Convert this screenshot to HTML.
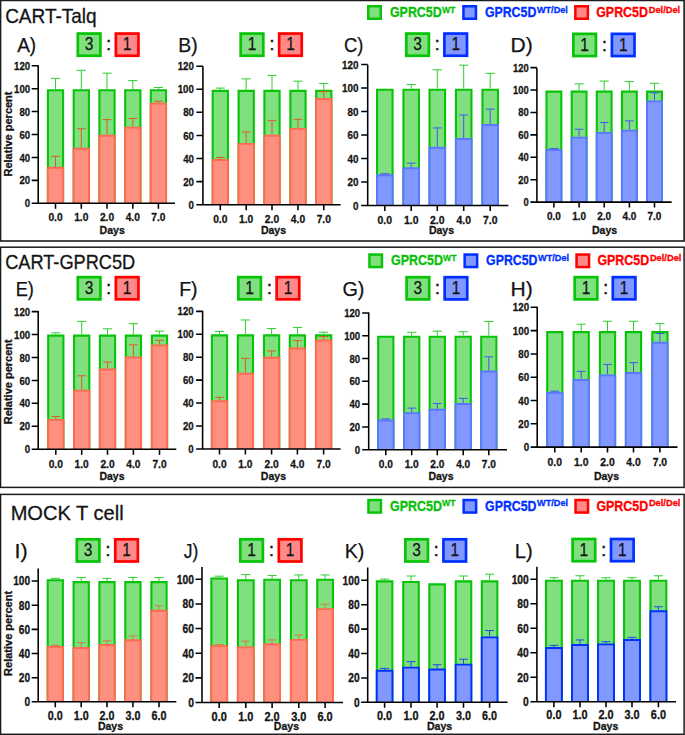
<!DOCTYPE html>
<html lang="en"><head><meta charset="utf-8"><title>GPRC5D competition assay</title>
<style>html,body{margin:0;padding:0;background:#fff}svg{display:block}text{font-family:"Liberation Sans",Arial,sans-serif}</style>
</head><body>
<svg width="685" height="735" viewBox="0 0 685 735" font-family="Liberation Sans, Arial, sans-serif">
<rect x="0" y="0" width="685" height="735" fill="#fff"/>
<rect x="0.55" y="0.45" width="683.55" height="240.55" fill="none" stroke="#1c1c1c" stroke-width="1.6"/>
<rect x="0.55" y="247.20" width="683.55" height="240.20" fill="none" stroke="#1c1c1c" stroke-width="1.5"/>
<rect x="0.55" y="494.40" width="683.55" height="239.90" fill="none" stroke="#1c1c1c" stroke-width="1.5"/>
<text x="5.13" y="22.90" font-size="20.8" font-weight="normal" fill="#141414" text-anchor="start" textLength="91.49" lengthAdjust="spacingAndGlyphs" stroke="#141414" stroke-width="0.3">CART-Talq</text>
<text x="5.17" y="269.20" font-size="20.8" font-weight="normal" fill="#141414" text-anchor="start" textLength="130.11" lengthAdjust="spacingAndGlyphs" stroke="#141414" stroke-width="0.3">CART-GPRC5D</text>
<text x="10.65" y="519.80" font-size="20.8" font-weight="normal" fill="#141414" text-anchor="start" textLength="112.99" lengthAdjust="spacingAndGlyphs" stroke="#141414" stroke-width="0.3">MOCK T cell</text>
<rect x="368.25" y="6.25" width="12.50" height="12.50" fill="#80e080" stroke="#08c408" stroke-width="2.5"/>
<text x="389.90" y="17.10" font-size="14.4" font-weight="bold" fill="#08c008" text-anchor="start" textLength="51.90" lengthAdjust="spacingAndGlyphs" stroke="#08c008" stroke-width="0.3">GPRC5D</text>
<text x="441.90" y="12.60" font-size="9.6" font-weight="bold" fill="#08c008" text-anchor="start" textLength="13.40" lengthAdjust="spacingAndGlyphs" stroke="#08c008" stroke-width="0.3">WT</text>
<rect x="463.45" y="6.25" width="12.50" height="12.50" fill="#8098ff" stroke="#0030ff" stroke-width="2.5"/>
<text x="484.90" y="17.10" font-size="14.4" font-weight="bold" fill="#0030ff" text-anchor="start" textLength="51.40" lengthAdjust="spacingAndGlyphs" stroke="#0030ff" stroke-width="0.3">GPRC5D</text>
<text x="536.90" y="12.60" font-size="9.6" font-weight="bold" fill="#0030ff" text-anchor="start" textLength="31.00" lengthAdjust="spacingAndGlyphs" stroke="#0030ff" stroke-width="0.3">WT/Del</text>
<rect x="575.35" y="6.25" width="12.50" height="12.50" fill="#ff8888" stroke="#ff0000" stroke-width="2.5"/>
<text x="596.20" y="17.10" font-size="14.4" font-weight="bold" fill="#ff0000" text-anchor="start" textLength="51.80" lengthAdjust="spacingAndGlyphs" stroke="#ff0000" stroke-width="0.3">GPRC5D</text>
<text x="648.70" y="12.60" font-size="9.6" font-weight="bold" fill="#ff0000" text-anchor="start" textLength="31.50" lengthAdjust="spacingAndGlyphs" stroke="#ff0000" stroke-width="0.3">Del/Del</text>
<rect x="369.45" y="254.55" width="12.50" height="12.50" fill="#80e080" stroke="#08c408" stroke-width="2.5"/>
<text x="391.10" y="265.40" font-size="14.4" font-weight="bold" fill="#08c008" text-anchor="start" textLength="51.90" lengthAdjust="spacingAndGlyphs" stroke="#08c008" stroke-width="0.3">GPRC5D</text>
<text x="443.10" y="260.90" font-size="9.6" font-weight="bold" fill="#08c008" text-anchor="start" textLength="13.40" lengthAdjust="spacingAndGlyphs" stroke="#08c008" stroke-width="0.3">WT</text>
<rect x="464.65" y="254.55" width="12.50" height="12.50" fill="#8098ff" stroke="#0030ff" stroke-width="2.5"/>
<text x="486.10" y="265.40" font-size="14.4" font-weight="bold" fill="#0030ff" text-anchor="start" textLength="51.40" lengthAdjust="spacingAndGlyphs" stroke="#0030ff" stroke-width="0.3">GPRC5D</text>
<text x="538.10" y="260.90" font-size="9.6" font-weight="bold" fill="#0030ff" text-anchor="start" textLength="31.00" lengthAdjust="spacingAndGlyphs" stroke="#0030ff" stroke-width="0.3">WT/Del</text>
<rect x="576.55" y="254.55" width="12.50" height="12.50" fill="#ff8888" stroke="#ff0000" stroke-width="2.5"/>
<text x="597.40" y="265.40" font-size="14.4" font-weight="bold" fill="#ff0000" text-anchor="start" textLength="51.80" lengthAdjust="spacingAndGlyphs" stroke="#ff0000" stroke-width="0.3">GPRC5D</text>
<text x="649.90" y="260.90" font-size="9.6" font-weight="bold" fill="#ff0000" text-anchor="start" textLength="31.50" lengthAdjust="spacingAndGlyphs" stroke="#ff0000" stroke-width="0.3">Del/Del</text>
<rect x="368.45" y="500.05" width="12.50" height="12.50" fill="#80e080" stroke="#08c408" stroke-width="2.5"/>
<text x="390.10" y="510.90" font-size="14.4" font-weight="bold" fill="#08c008" text-anchor="start" textLength="51.90" lengthAdjust="spacingAndGlyphs" stroke="#08c008" stroke-width="0.3">GPRC5D</text>
<text x="442.10" y="506.40" font-size="9.6" font-weight="bold" fill="#08c008" text-anchor="start" textLength="13.40" lengthAdjust="spacingAndGlyphs" stroke="#08c008" stroke-width="0.3">WT</text>
<rect x="463.65" y="500.05" width="12.50" height="12.50" fill="#8098ff" stroke="#0030ff" stroke-width="2.5"/>
<text x="485.10" y="510.90" font-size="14.4" font-weight="bold" fill="#0030ff" text-anchor="start" textLength="51.40" lengthAdjust="spacingAndGlyphs" stroke="#0030ff" stroke-width="0.3">GPRC5D</text>
<text x="537.10" y="506.40" font-size="9.6" font-weight="bold" fill="#0030ff" text-anchor="start" textLength="31.00" lengthAdjust="spacingAndGlyphs" stroke="#0030ff" stroke-width="0.3">WT/Del</text>
<rect x="575.55" y="500.05" width="12.50" height="12.50" fill="#ff8888" stroke="#ff0000" stroke-width="2.5"/>
<text x="596.40" y="510.90" font-size="14.4" font-weight="bold" fill="#ff0000" text-anchor="start" textLength="51.80" lengthAdjust="spacingAndGlyphs" stroke="#ff0000" stroke-width="0.3">GPRC5D</text>
<text x="648.90" y="506.40" font-size="9.6" font-weight="bold" fill="#ff0000" text-anchor="start" textLength="31.50" lengthAdjust="spacingAndGlyphs" stroke="#ff0000" stroke-width="0.3">Del/Del</text>
<path d="M47.90 203.30V90.27H63.10V203.30" fill="#80e080" stroke="#08c408" stroke-width="2.1"/>
<path d="M55.50 89.22V78.33M50.90 78.33H60.10" stroke="#30cc30" stroke-width="1" fill="none"/>
<path d="M73.70 203.30V90.27H88.90V203.30" fill="#80e080" stroke="#08c408" stroke-width="2.1"/>
<path d="M81.30 89.22V70.31M76.70 70.31H85.90" stroke="#30cc30" stroke-width="1" fill="none"/>
<path d="M99.40 203.30V90.27H114.60V203.30" fill="#80e080" stroke="#08c408" stroke-width="2.1"/>
<path d="M107.00 89.22V73.17M102.40 73.17H111.60" stroke="#30cc30" stroke-width="1" fill="none"/>
<path d="M125.20 203.30V90.27H140.40V203.30" fill="#80e080" stroke="#08c408" stroke-width="2.1"/>
<path d="M132.80 89.22V80.62M128.20 80.62H137.40" stroke="#30cc30" stroke-width="1" fill="none"/>
<path d="M150.80 203.30V90.27H166.00V203.30" fill="#80e080" stroke="#08c408" stroke-width="2.1"/>
<path d="M158.40 89.22V87.50M153.80 87.50H163.00" stroke="#30cc30" stroke-width="1" fill="none"/>
<path d="M47.80 203.30V167.79H63.20V203.30" fill="#ff9080" stroke="#ff6a50" stroke-width="1.9"/>
<path d="M55.50 166.84V156.29M51.10 156.29H59.90" stroke="#d8601c" stroke-width="1" fill="none"/>
<path d="M73.60 203.30V148.76H89.00V203.30" fill="#ff9080" stroke="#ff6a50" stroke-width="1.9"/>
<path d="M81.30 147.81V128.78M76.90 128.78H85.70" stroke="#d8601c" stroke-width="1" fill="none"/>
<path d="M99.30 203.30V135.69H114.70V203.30" fill="#ff9080" stroke="#ff6a50" stroke-width="1.9"/>
<path d="M107.00 134.74V119.61M102.60 119.61H111.40" stroke="#d8601c" stroke-width="1" fill="none"/>
<path d="M125.10 203.30V127.66H140.50V203.30" fill="#ff9080" stroke="#ff6a50" stroke-width="1.9"/>
<path d="M132.80 126.71V118.46M128.40 118.46H137.20" stroke="#d8601c" stroke-width="1" fill="none"/>
<path d="M150.70 203.30V103.59H166.10V203.30" fill="#ff9080" stroke="#ff6a50" stroke-width="1.9"/>
<path d="M158.40 102.64V101.26M154.00 101.26H162.80" stroke="#d8601c" stroke-width="1" fill="none"/>
<path d="M38.20 65.20V203.30H175.00M31.70 203.30H38.20M31.70 180.37H38.20M31.70 157.44H38.20M31.70 134.51H38.20M31.70 111.58H38.20M31.70 88.65H38.20M31.70 65.72H38.20M55.50 203.30V208.80M81.30 203.30V208.80M107.00 203.30V208.80M132.80 203.30V208.80M158.40 203.30V208.80" stroke="#000" stroke-width="1.55" fill="none"/>
<text x="30.10" y="207.40" font-size="11.5" font-weight="bold" fill="#141414" text-anchor="end" textLength="5.35" lengthAdjust="spacingAndGlyphs" stroke="#141414" stroke-width="0.3">0</text>
<text x="30.10" y="184.47" font-size="11.5" font-weight="bold" fill="#141414" text-anchor="end" textLength="10.70" lengthAdjust="spacingAndGlyphs" stroke="#141414" stroke-width="0.3">20</text>
<text x="30.10" y="161.54" font-size="11.5" font-weight="bold" fill="#141414" text-anchor="end" textLength="10.70" lengthAdjust="spacingAndGlyphs" stroke="#141414" stroke-width="0.3">40</text>
<text x="30.10" y="138.61" font-size="11.5" font-weight="bold" fill="#141414" text-anchor="end" textLength="10.70" lengthAdjust="spacingAndGlyphs" stroke="#141414" stroke-width="0.3">60</text>
<text x="30.10" y="115.68" font-size="11.5" font-weight="bold" fill="#141414" text-anchor="end" textLength="10.70" lengthAdjust="spacingAndGlyphs" stroke="#141414" stroke-width="0.3">80</text>
<text x="30.10" y="92.75" font-size="11.5" font-weight="bold" fill="#141414" text-anchor="end" textLength="16.05" lengthAdjust="spacingAndGlyphs" stroke="#141414" stroke-width="0.3">100</text>
<text x="30.10" y="69.82" font-size="11.5" font-weight="bold" fill="#141414" text-anchor="end" textLength="16.05" lengthAdjust="spacingAndGlyphs" stroke="#141414" stroke-width="0.3">120</text>
<text x="55.50" y="221.00" font-size="11.5" font-weight="bold" fill="#141414" text-anchor="middle" textLength="14.20" lengthAdjust="spacingAndGlyphs" stroke="#141414" stroke-width="0.3">0.0</text>
<text x="81.30" y="221.00" font-size="11.5" font-weight="bold" fill="#141414" text-anchor="middle" textLength="14.20" lengthAdjust="spacingAndGlyphs" stroke="#141414" stroke-width="0.3">1.0</text>
<text x="107.00" y="221.00" font-size="11.5" font-weight="bold" fill="#141414" text-anchor="middle" textLength="14.20" lengthAdjust="spacingAndGlyphs" stroke="#141414" stroke-width="0.3">2.0</text>
<text x="132.80" y="221.00" font-size="11.5" font-weight="bold" fill="#141414" text-anchor="middle" textLength="14.20" lengthAdjust="spacingAndGlyphs" stroke="#141414" stroke-width="0.3">4.0</text>
<text x="158.40" y="221.00" font-size="11.5" font-weight="bold" fill="#141414" text-anchor="middle" textLength="14.20" lengthAdjust="spacingAndGlyphs" stroke="#141414" stroke-width="0.3">7.0</text>
<text x="112.20" y="234.20" font-size="11.6" font-weight="bold" fill="#141414" text-anchor="middle" textLength="25.20" lengthAdjust="spacingAndGlyphs" stroke="#141414" stroke-width="0.3">Days</text>
<text x="17.16" y="51.90" font-size="21" font-weight="normal" fill="#141414" text-anchor="start" textLength="19.02" lengthAdjust="spacingAndGlyphs" stroke="#141414" stroke-width="0.25">A)</text>
<rect x="77.80" y="33.55" width="22.60" height="22.20" fill="#80e080" stroke="#08c408" stroke-width="2.7"/>
<rect x="115.85" y="33.55" width="22.60" height="22.20" fill="#ff8888" stroke="#ff0000" stroke-width="2.7"/>
<text x="89.10" y="50.35" font-size="17.5" font-weight="normal" fill="#141414" text-anchor="middle" textLength="8.60" lengthAdjust="spacingAndGlyphs" stroke="#141414" stroke-width="0.25">3</text>
<text x="127.15" y="50.35" font-size="17.5" font-weight="normal" fill="#141414" text-anchor="middle" textLength="8.60" lengthAdjust="spacingAndGlyphs" stroke="#141414" stroke-width="0.25">1</text>
<text x="108.72" y="50.35" font-size="17.5" font-weight="normal" fill="#141414" text-anchor="middle" stroke="#141414" stroke-width="0.5">:</text>
<text transform="translate(12.2 134.00) rotate(-90)" font-size="11" font-weight="bold" fill="#141414" stroke="#141414" stroke-width="0.3" text-anchor="middle" textLength="85" lengthAdjust="spacingAndGlyphs">Relative percent</text>
<path d="M212.70 204.70V90.88H227.90V204.70" fill="#80e080" stroke="#08c408" stroke-width="2.1"/>
<path d="M220.30 89.83V88.10M215.70 88.10H224.90" stroke="#30cc30" stroke-width="1" fill="none"/>
<path d="M238.60 204.70V90.88H253.80V204.70" fill="#80e080" stroke="#08c408" stroke-width="2.1"/>
<path d="M246.20 89.83V78.86M241.60 78.86H250.80" stroke="#30cc30" stroke-width="1" fill="none"/>
<path d="M264.40 204.70V90.88H279.60V204.70" fill="#80e080" stroke="#08c408" stroke-width="2.1"/>
<path d="M272.00 89.83V75.40M267.40 75.40H276.60" stroke="#30cc30" stroke-width="1" fill="none"/>
<path d="M290.40 204.70V90.88H305.60V204.70" fill="#80e080" stroke="#08c408" stroke-width="2.1"/>
<path d="M298.00 89.83V81.17M293.40 81.17H302.60" stroke="#30cc30" stroke-width="1" fill="none"/>
<path d="M316.20 204.70V90.88H331.40V204.70" fill="#80e080" stroke="#08c408" stroke-width="2.1"/>
<path d="M323.80 89.83V83.48M319.20 83.48H328.40" stroke="#30cc30" stroke-width="1" fill="none"/>
<path d="M212.60 204.70V160.05H228.00V204.70" fill="#ff9080" stroke="#ff6a50" stroke-width="1.9"/>
<path d="M220.30 159.10V157.37M215.90 157.37H224.70" stroke="#d8601c" stroke-width="1" fill="none"/>
<path d="M238.50 204.70V143.88H253.90V204.70" fill="#ff9080" stroke="#ff6a50" stroke-width="1.9"/>
<path d="M246.20 142.93V131.97M241.80 131.97H250.60" stroke="#d8601c" stroke-width="1" fill="none"/>
<path d="M264.30 204.70V135.80H279.70V204.70" fill="#ff9080" stroke="#ff6a50" stroke-width="1.9"/>
<path d="M272.00 134.85V120.42M267.60 120.42H276.40" stroke="#d8601c" stroke-width="1" fill="none"/>
<path d="M290.30 204.70V128.88H305.70V204.70" fill="#ff9080" stroke="#ff6a50" stroke-width="1.9"/>
<path d="M298.00 127.93V119.27M293.60 119.27H302.40" stroke="#d8601c" stroke-width="1" fill="none"/>
<path d="M316.10 204.70V98.97H331.50V204.70" fill="#ff9080" stroke="#ff6a50" stroke-width="1.9"/>
<path d="M323.80 98.02V91.56M319.40 91.56H328.20" stroke="#d8601c" stroke-width="1" fill="none"/>
<path d="M202.90 66.20V204.70H340.60M196.40 204.70H202.90M196.40 181.61H202.90M196.40 158.52H202.90M196.40 135.43H202.90M196.40 112.34H202.90M196.40 89.25H202.90M196.40 66.16H202.90M220.30 204.70V210.20M246.20 204.70V210.20M272.00 204.70V210.20M298.00 204.70V210.20M323.80 204.70V210.20" stroke="#000" stroke-width="1.55" fill="none"/>
<text x="193.90" y="208.83" font-size="11.58" font-weight="bold" fill="#141414" text-anchor="end" textLength="5.39" lengthAdjust="spacingAndGlyphs" stroke="#141414" stroke-width="0.3">0</text>
<text x="193.90" y="185.74" font-size="11.58" font-weight="bold" fill="#141414" text-anchor="end" textLength="10.77" lengthAdjust="spacingAndGlyphs" stroke="#141414" stroke-width="0.3">20</text>
<text x="193.90" y="162.65" font-size="11.58" font-weight="bold" fill="#141414" text-anchor="end" textLength="10.77" lengthAdjust="spacingAndGlyphs" stroke="#141414" stroke-width="0.3">40</text>
<text x="193.90" y="139.56" font-size="11.58" font-weight="bold" fill="#141414" text-anchor="end" textLength="10.77" lengthAdjust="spacingAndGlyphs" stroke="#141414" stroke-width="0.3">60</text>
<text x="193.90" y="116.47" font-size="11.58" font-weight="bold" fill="#141414" text-anchor="end" textLength="10.77" lengthAdjust="spacingAndGlyphs" stroke="#141414" stroke-width="0.3">80</text>
<text x="193.90" y="93.38" font-size="11.58" font-weight="bold" fill="#141414" text-anchor="end" textLength="16.16" lengthAdjust="spacingAndGlyphs" stroke="#141414" stroke-width="0.3">100</text>
<text x="193.90" y="70.29" font-size="11.58" font-weight="bold" fill="#141414" text-anchor="end" textLength="16.16" lengthAdjust="spacingAndGlyphs" stroke="#141414" stroke-width="0.3">120</text>
<text x="220.30" y="223.00" font-size="11.58" font-weight="bold" fill="#141414" text-anchor="middle" textLength="14.30" lengthAdjust="spacingAndGlyphs" stroke="#141414" stroke-width="0.3">0.0</text>
<text x="246.20" y="223.00" font-size="11.58" font-weight="bold" fill="#141414" text-anchor="middle" textLength="14.30" lengthAdjust="spacingAndGlyphs" stroke="#141414" stroke-width="0.3">1.0</text>
<text x="272.00" y="223.00" font-size="11.58" font-weight="bold" fill="#141414" text-anchor="middle" textLength="14.30" lengthAdjust="spacingAndGlyphs" stroke="#141414" stroke-width="0.3">2.0</text>
<text x="298.00" y="223.00" font-size="11.58" font-weight="bold" fill="#141414" text-anchor="middle" textLength="14.30" lengthAdjust="spacingAndGlyphs" stroke="#141414" stroke-width="0.3">4.0</text>
<text x="323.80" y="223.00" font-size="11.58" font-weight="bold" fill="#141414" text-anchor="middle" textLength="14.30" lengthAdjust="spacingAndGlyphs" stroke="#141414" stroke-width="0.3">7.0</text>
<text x="273.50" y="234.20" font-size="11.6" font-weight="bold" fill="#141414" text-anchor="middle" textLength="25.20" lengthAdjust="spacingAndGlyphs" stroke="#141414" stroke-width="0.3">Days</text>
<text x="178.21" y="51.90" font-size="21" font-weight="normal" fill="#141414" text-anchor="start" textLength="19.39" lengthAdjust="spacingAndGlyphs" stroke="#141414" stroke-width="0.25">B)</text>
<rect x="240.70" y="33.55" width="22.60" height="22.20" fill="#80e080" stroke="#08c408" stroke-width="2.7"/>
<rect x="279.15" y="33.55" width="22.60" height="22.20" fill="#ff8888" stroke="#ff0000" stroke-width="2.7"/>
<text x="252.00" y="50.35" font-size="17.5" font-weight="normal" fill="#141414" text-anchor="middle" textLength="8.60" lengthAdjust="spacingAndGlyphs" stroke="#141414" stroke-width="0.25">1</text>
<text x="290.45" y="50.35" font-size="17.5" font-weight="normal" fill="#141414" text-anchor="middle" textLength="8.60" lengthAdjust="spacingAndGlyphs" stroke="#141414" stroke-width="0.25">1</text>
<text x="271.83" y="50.35" font-size="17.5" font-weight="normal" fill="#141414" text-anchor="middle" stroke="#141414" stroke-width="0.5">:</text>
<path d="M377.05 205.40V89.69H392.55V205.40" fill="#80e080" stroke="#08c408" stroke-width="2.1"/>
<path d="M403.45 205.40V89.69H418.95V205.40" fill="#80e080" stroke="#08c408" stroke-width="2.1"/>
<path d="M411.20 88.64V84.53M406.60 84.53H415.80" stroke="#30cc30" stroke-width="1" fill="none"/>
<path d="M429.55 205.40V89.69H445.05V205.40" fill="#80e080" stroke="#08c408" stroke-width="2.1"/>
<path d="M437.30 88.64V69.86M432.70 69.86H441.90" stroke="#30cc30" stroke-width="1" fill="none"/>
<path d="M455.95 205.40V89.69H471.45V205.40" fill="#80e080" stroke="#08c408" stroke-width="2.1"/>
<path d="M463.70 88.64V65.17M459.10 65.17H468.30" stroke="#30cc30" stroke-width="1" fill="none"/>
<path d="M482.45 205.40V89.69H497.95V205.40" fill="#80e080" stroke="#08c408" stroke-width="2.1"/>
<path d="M490.20 88.64V73.38M485.60 73.38H494.80" stroke="#30cc30" stroke-width="1" fill="none"/>
<path d="M376.95 205.40V175.25H392.65V205.40" fill="#8098ff" stroke="#5a78ff" stroke-width="1.9"/>
<path d="M384.80 174.30V173.72M380.40 173.72H389.20" stroke="#4058e8" stroke-width="1" fill="none"/>
<path d="M403.35 205.40V168.21H419.05V205.40" fill="#8098ff" stroke="#5a78ff" stroke-width="1.9"/>
<path d="M411.20 167.26V163.15M406.80 163.15H415.60" stroke="#4058e8" stroke-width="1" fill="none"/>
<path d="M429.45 205.40V147.68H445.15V205.40" fill="#8098ff" stroke="#5a78ff" stroke-width="1.9"/>
<path d="M437.30 146.73V127.95M432.90 127.95H441.70" stroke="#4058e8" stroke-width="1" fill="none"/>
<path d="M455.85 205.40V138.99H471.55V205.40" fill="#8098ff" stroke="#5a78ff" stroke-width="1.9"/>
<path d="M463.70 138.04V115.04M459.30 115.04H468.10" stroke="#4058e8" stroke-width="1" fill="none"/>
<path d="M482.35 205.40V125.03H498.05V205.40" fill="#8098ff" stroke="#5a78ff" stroke-width="1.9"/>
<path d="M490.20 124.08V109.17M485.80 109.17H494.60" stroke="#4058e8" stroke-width="1" fill="none"/>
<path d="M367.70 64.70V205.40H508.40M361.20 205.40H367.70M361.20 181.93H367.70M361.20 158.46H367.70M361.20 134.99H367.70M361.20 111.52H367.70M361.20 88.05H367.70M361.20 64.58H367.70M384.80 205.40V210.90M411.20 205.40V210.90M437.30 205.40V210.90M463.70 205.40V210.90M490.20 205.40V210.90" stroke="#000" stroke-width="1.55" fill="none"/>
<text x="358.40" y="209.60" font-size="11.77" font-weight="bold" fill="#141414" text-anchor="end" textLength="5.48" lengthAdjust="spacingAndGlyphs" stroke="#141414" stroke-width="0.3">0</text>
<text x="358.40" y="186.13" font-size="11.77" font-weight="bold" fill="#141414" text-anchor="end" textLength="10.95" lengthAdjust="spacingAndGlyphs" stroke="#141414" stroke-width="0.3">20</text>
<text x="358.40" y="162.66" font-size="11.77" font-weight="bold" fill="#141414" text-anchor="end" textLength="10.95" lengthAdjust="spacingAndGlyphs" stroke="#141414" stroke-width="0.3">40</text>
<text x="358.40" y="139.19" font-size="11.77" font-weight="bold" fill="#141414" text-anchor="end" textLength="10.95" lengthAdjust="spacingAndGlyphs" stroke="#141414" stroke-width="0.3">60</text>
<text x="358.40" y="115.72" font-size="11.77" font-weight="bold" fill="#141414" text-anchor="end" textLength="10.95" lengthAdjust="spacingAndGlyphs" stroke="#141414" stroke-width="0.3">80</text>
<text x="358.40" y="92.25" font-size="11.77" font-weight="bold" fill="#141414" text-anchor="end" textLength="16.43" lengthAdjust="spacingAndGlyphs" stroke="#141414" stroke-width="0.3">100</text>
<text x="358.40" y="68.78" font-size="11.77" font-weight="bold" fill="#141414" text-anchor="end" textLength="16.43" lengthAdjust="spacingAndGlyphs" stroke="#141414" stroke-width="0.3">120</text>
<text x="384.80" y="224.00" font-size="11.77" font-weight="bold" fill="#141414" text-anchor="middle" textLength="14.53" lengthAdjust="spacingAndGlyphs" stroke="#141414" stroke-width="0.3">0.0</text>
<text x="411.20" y="224.00" font-size="11.77" font-weight="bold" fill="#141414" text-anchor="middle" textLength="14.53" lengthAdjust="spacingAndGlyphs" stroke="#141414" stroke-width="0.3">1.0</text>
<text x="437.30" y="224.00" font-size="11.77" font-weight="bold" fill="#141414" text-anchor="middle" textLength="14.53" lengthAdjust="spacingAndGlyphs" stroke="#141414" stroke-width="0.3">2.0</text>
<text x="463.70" y="224.00" font-size="11.77" font-weight="bold" fill="#141414" text-anchor="middle" textLength="14.53" lengthAdjust="spacingAndGlyphs" stroke="#141414" stroke-width="0.3">4.0</text>
<text x="490.20" y="224.00" font-size="11.77" font-weight="bold" fill="#141414" text-anchor="middle" textLength="14.53" lengthAdjust="spacingAndGlyphs" stroke="#141414" stroke-width="0.3">7.0</text>
<text x="441.50" y="234.20" font-size="11.6" font-weight="bold" fill="#141414" text-anchor="middle" textLength="25.20" lengthAdjust="spacingAndGlyphs" stroke="#141414" stroke-width="0.3">Days</text>
<text x="344.06" y="51.90" font-size="21" font-weight="normal" fill="#141414" text-anchor="start" textLength="19.38" lengthAdjust="spacingAndGlyphs" stroke="#141414" stroke-width="0.25">C)</text>
<rect x="406.30" y="33.55" width="22.60" height="22.20" fill="#80e080" stroke="#08c408" stroke-width="2.7"/>
<rect x="444.40" y="33.55" width="22.60" height="22.20" fill="#8098ff" stroke="#0030ff" stroke-width="2.7"/>
<text x="417.60" y="50.35" font-size="17.5" font-weight="normal" fill="#141414" text-anchor="middle" textLength="8.60" lengthAdjust="spacingAndGlyphs" stroke="#141414" stroke-width="0.25">3</text>
<text x="455.70" y="50.35" font-size="17.5" font-weight="normal" fill="#141414" text-anchor="middle" textLength="8.60" lengthAdjust="spacingAndGlyphs" stroke="#141414" stroke-width="0.25">1</text>
<text x="437.25" y="50.35" font-size="17.5" font-weight="normal" fill="#141414" text-anchor="middle" stroke="#141414" stroke-width="0.5">:</text>
<path d="M546.50 202.10V91.65H561.30V202.10" fill="#80e080" stroke="#08c408" stroke-width="2.1"/>
<path d="M571.70 202.10V91.65H586.50V202.10" fill="#80e080" stroke="#08c408" stroke-width="2.1"/>
<path d="M579.10 90.60V83.88M574.50 83.88H583.70" stroke="#30cc30" stroke-width="1" fill="none"/>
<path d="M596.80 202.10V91.65H611.60V202.10" fill="#80e080" stroke="#08c408" stroke-width="2.1"/>
<path d="M604.20 90.60V81.08M599.60 81.08H608.80" stroke="#30cc30" stroke-width="1" fill="none"/>
<path d="M622.00 202.10V91.65H636.80V202.10" fill="#80e080" stroke="#08c408" stroke-width="2.1"/>
<path d="M629.40 90.60V81.64M624.80 81.64H634.00" stroke="#30cc30" stroke-width="1" fill="none"/>
<path d="M647.10 202.10V91.65H661.90V202.10" fill="#80e080" stroke="#08c408" stroke-width="2.1"/>
<path d="M654.50 90.60V83.32M649.90 83.32H659.10" stroke="#30cc30" stroke-width="1" fill="none"/>
<path d="M546.40 202.10V150.05H561.40V202.10" fill="#8098ff" stroke="#5a78ff" stroke-width="1.9"/>
<path d="M553.90 149.10V148.54M549.50 148.54H558.30" stroke="#4058e8" stroke-width="1" fill="none"/>
<path d="M571.60 202.10V137.61H586.60V202.10" fill="#8098ff" stroke="#5a78ff" stroke-width="1.9"/>
<path d="M579.10 136.66V129.26M574.70 129.26H583.50" stroke="#4058e8" stroke-width="1" fill="none"/>
<path d="M596.70 202.10V132.90H611.70V202.10" fill="#8098ff" stroke="#5a78ff" stroke-width="1.9"/>
<path d="M604.20 131.95V122.54M599.80 122.54H608.60" stroke="#4058e8" stroke-width="1" fill="none"/>
<path d="M621.90 202.10V130.66H636.90V202.10" fill="#8098ff" stroke="#5a78ff" stroke-width="1.9"/>
<path d="M629.40 129.71V120.86M625.00 120.86H633.80" stroke="#4058e8" stroke-width="1" fill="none"/>
<path d="M647.00 202.10V101.41H662.00V202.10" fill="#8098ff" stroke="#5a78ff" stroke-width="1.9"/>
<path d="M654.50 100.46V92.84M650.10 92.84H658.90" stroke="#4058e8" stroke-width="1" fill="none"/>
<path d="M536.90 67.90V202.10H671.60M530.40 202.10H536.90M530.40 179.69H536.90M530.40 157.28H536.90M530.40 134.86H536.90M530.40 112.45H536.90M530.40 90.04H536.90M530.40 67.63H536.90M553.90 202.10V207.60M579.10 202.10V207.60M604.20 202.10V207.60M629.40 202.10V207.60M654.50 202.10V207.60" stroke="#000" stroke-width="1.55" fill="none"/>
<text x="528.80" y="206.11" font-size="11.24" font-weight="bold" fill="#141414" text-anchor="end" textLength="5.23" lengthAdjust="spacingAndGlyphs" stroke="#141414" stroke-width="0.3">0</text>
<text x="528.80" y="183.70" font-size="11.24" font-weight="bold" fill="#141414" text-anchor="end" textLength="10.46" lengthAdjust="spacingAndGlyphs" stroke="#141414" stroke-width="0.3">20</text>
<text x="528.80" y="161.28" font-size="11.24" font-weight="bold" fill="#141414" text-anchor="end" textLength="10.46" lengthAdjust="spacingAndGlyphs" stroke="#141414" stroke-width="0.3">40</text>
<text x="528.80" y="138.87" font-size="11.24" font-weight="bold" fill="#141414" text-anchor="end" textLength="10.46" lengthAdjust="spacingAndGlyphs" stroke="#141414" stroke-width="0.3">60</text>
<text x="528.80" y="116.46" font-size="11.24" font-weight="bold" fill="#141414" text-anchor="end" textLength="10.46" lengthAdjust="spacingAndGlyphs" stroke="#141414" stroke-width="0.3">80</text>
<text x="528.80" y="94.05" font-size="11.24" font-weight="bold" fill="#141414" text-anchor="end" textLength="15.69" lengthAdjust="spacingAndGlyphs" stroke="#141414" stroke-width="0.3">100</text>
<text x="528.80" y="71.64" font-size="11.24" font-weight="bold" fill="#141414" text-anchor="end" textLength="15.69" lengthAdjust="spacingAndGlyphs" stroke="#141414" stroke-width="0.3">120</text>
<text x="553.90" y="220.10" font-size="11.24" font-weight="bold" fill="#141414" text-anchor="middle" textLength="13.88" lengthAdjust="spacingAndGlyphs" stroke="#141414" stroke-width="0.3">0.0</text>
<text x="579.10" y="220.10" font-size="11.24" font-weight="bold" fill="#141414" text-anchor="middle" textLength="13.88" lengthAdjust="spacingAndGlyphs" stroke="#141414" stroke-width="0.3">1.0</text>
<text x="604.20" y="220.10" font-size="11.24" font-weight="bold" fill="#141414" text-anchor="middle" textLength="13.88" lengthAdjust="spacingAndGlyphs" stroke="#141414" stroke-width="0.3">2.0</text>
<text x="629.40" y="220.10" font-size="11.24" font-weight="bold" fill="#141414" text-anchor="middle" textLength="13.88" lengthAdjust="spacingAndGlyphs" stroke="#141414" stroke-width="0.3">4.0</text>
<text x="654.50" y="220.10" font-size="11.24" font-weight="bold" fill="#141414" text-anchor="middle" textLength="13.88" lengthAdjust="spacingAndGlyphs" stroke="#141414" stroke-width="0.3">7.0</text>
<text x="604.60" y="234.20" font-size="11.6" font-weight="bold" fill="#141414" text-anchor="middle" textLength="25.20" lengthAdjust="spacingAndGlyphs" stroke="#141414" stroke-width="0.3">Days</text>
<text x="510.57" y="51.90" font-size="21" font-weight="normal" fill="#141414" text-anchor="start" textLength="22.24" lengthAdjust="spacingAndGlyphs" stroke="#141414" stroke-width="0.25">D)</text>
<rect x="573.35" y="33.85" width="22.60" height="22.20" fill="#80e080" stroke="#08c408" stroke-width="2.7"/>
<rect x="611.90" y="33.85" width="22.60" height="22.20" fill="#8098ff" stroke="#0030ff" stroke-width="2.7"/>
<text x="584.65" y="50.65" font-size="17.5" font-weight="normal" fill="#141414" text-anchor="middle" textLength="8.60" lengthAdjust="spacingAndGlyphs" stroke="#141414" stroke-width="0.25">1</text>
<text x="623.20" y="50.65" font-size="17.5" font-weight="normal" fill="#141414" text-anchor="middle" textLength="8.60" lengthAdjust="spacingAndGlyphs" stroke="#141414" stroke-width="0.25">1</text>
<text x="604.52" y="50.65" font-size="17.5" font-weight="normal" fill="#141414" text-anchor="middle" stroke="#141414" stroke-width="0.5">:</text>
<path d="M48.20 449.20V335.60H63.40V449.20" fill="#80e080" stroke="#08c408" stroke-width="2.1"/>
<path d="M55.80 334.55V332.83M51.20 332.83H60.40" stroke="#30cc30" stroke-width="1" fill="none"/>
<path d="M74.10 449.20V335.60H89.30V449.20" fill="#80e080" stroke="#08c408" stroke-width="2.1"/>
<path d="M81.70 334.55V321.37M77.10 321.37H86.30" stroke="#30cc30" stroke-width="1" fill="none"/>
<path d="M99.90 449.20V335.60H115.10V449.20" fill="#80e080" stroke="#08c408" stroke-width="2.1"/>
<path d="M107.50 334.55V328.82M102.90 328.82H112.10" stroke="#30cc30" stroke-width="1" fill="none"/>
<path d="M125.80 449.20V335.60H141.00V449.20" fill="#80e080" stroke="#08c408" stroke-width="2.1"/>
<path d="M133.40 334.55V323.66M128.80 323.66H138.00" stroke="#30cc30" stroke-width="1" fill="none"/>
<path d="M151.90 449.20V335.60H167.10V449.20" fill="#80e080" stroke="#08c408" stroke-width="2.1"/>
<path d="M159.50 334.55V331.11M154.90 331.11H164.10" stroke="#30cc30" stroke-width="1" fill="none"/>
<path d="M48.10 449.20V419.88H63.50V449.20" fill="#ff9080" stroke="#ff6a50" stroke-width="1.9"/>
<path d="M55.80 418.93V416.52M51.40 416.52H60.20" stroke="#d8601c" stroke-width="1" fill="none"/>
<path d="M74.00 449.20V390.65H89.40V449.20" fill="#ff9080" stroke="#ff6a50" stroke-width="1.9"/>
<path d="M81.70 389.70V375.82M77.30 375.82H86.10" stroke="#d8601c" stroke-width="1" fill="none"/>
<path d="M99.80 449.20V369.44H115.20V449.20" fill="#ff9080" stroke="#ff6a50" stroke-width="1.9"/>
<path d="M107.50 368.49V362.07M103.10 362.07H111.90" stroke="#d8601c" stroke-width="1" fill="none"/>
<path d="M125.70 449.20V357.40H141.10V449.20" fill="#ff9080" stroke="#ff6a50" stroke-width="1.9"/>
<path d="M133.40 356.45V344.87M129.00 344.87H137.80" stroke="#d8601c" stroke-width="1" fill="none"/>
<path d="M151.80 449.20V345.36H167.20V449.20" fill="#ff9080" stroke="#ff6a50" stroke-width="1.9"/>
<path d="M159.50 344.41V340.28M155.10 340.28H163.90" stroke="#d8601c" stroke-width="1" fill="none"/>
<path d="M38.20 311.00V449.20H176.30M31.70 449.20H38.20M31.70 426.27H38.20M31.70 403.34H38.20M31.70 380.41H38.20M31.70 357.48H38.20M31.70 334.55H38.20M31.70 311.62H38.20M55.80 449.20V454.70M81.70 449.20V454.70M107.50 449.20V454.70M133.40 449.20V454.70M159.50 449.20V454.70" stroke="#000" stroke-width="1.55" fill="none"/>
<text x="30.10" y="453.30" font-size="11.5" font-weight="bold" fill="#141414" text-anchor="end" textLength="5.35" lengthAdjust="spacingAndGlyphs" stroke="#141414" stroke-width="0.3">0</text>
<text x="30.10" y="430.37" font-size="11.5" font-weight="bold" fill="#141414" text-anchor="end" textLength="10.70" lengthAdjust="spacingAndGlyphs" stroke="#141414" stroke-width="0.3">20</text>
<text x="30.10" y="407.44" font-size="11.5" font-weight="bold" fill="#141414" text-anchor="end" textLength="10.70" lengthAdjust="spacingAndGlyphs" stroke="#141414" stroke-width="0.3">40</text>
<text x="30.10" y="384.51" font-size="11.5" font-weight="bold" fill="#141414" text-anchor="end" textLength="10.70" lengthAdjust="spacingAndGlyphs" stroke="#141414" stroke-width="0.3">60</text>
<text x="30.10" y="361.58" font-size="11.5" font-weight="bold" fill="#141414" text-anchor="end" textLength="10.70" lengthAdjust="spacingAndGlyphs" stroke="#141414" stroke-width="0.3">80</text>
<text x="30.10" y="338.65" font-size="11.5" font-weight="bold" fill="#141414" text-anchor="end" textLength="16.05" lengthAdjust="spacingAndGlyphs" stroke="#141414" stroke-width="0.3">100</text>
<text x="30.10" y="315.72" font-size="11.5" font-weight="bold" fill="#141414" text-anchor="end" textLength="16.05" lengthAdjust="spacingAndGlyphs" stroke="#141414" stroke-width="0.3">120</text>
<text x="55.80" y="467.70" font-size="11.5" font-weight="bold" fill="#141414" text-anchor="middle" textLength="14.20" lengthAdjust="spacingAndGlyphs" stroke="#141414" stroke-width="0.3">0.0</text>
<text x="81.70" y="467.70" font-size="11.5" font-weight="bold" fill="#141414" text-anchor="middle" textLength="14.20" lengthAdjust="spacingAndGlyphs" stroke="#141414" stroke-width="0.3">1.0</text>
<text x="107.50" y="467.70" font-size="11.5" font-weight="bold" fill="#141414" text-anchor="middle" textLength="14.20" lengthAdjust="spacingAndGlyphs" stroke="#141414" stroke-width="0.3">2.0</text>
<text x="133.40" y="467.70" font-size="11.5" font-weight="bold" fill="#141414" text-anchor="middle" textLength="14.20" lengthAdjust="spacingAndGlyphs" stroke="#141414" stroke-width="0.3">4.0</text>
<text x="159.50" y="467.70" font-size="11.5" font-weight="bold" fill="#141414" text-anchor="middle" textLength="14.20" lengthAdjust="spacingAndGlyphs" stroke="#141414" stroke-width="0.3">7.0</text>
<text x="112.00" y="479.80" font-size="11.6" font-weight="bold" fill="#141414" text-anchor="middle" textLength="25.20" lengthAdjust="spacingAndGlyphs" stroke="#141414" stroke-width="0.3">Days</text>
<text x="15.71" y="295.70" font-size="21" font-weight="normal" fill="#141414" text-anchor="start" textLength="18.22" lengthAdjust="spacingAndGlyphs" stroke="#141414" stroke-width="0.25">E)</text>
<rect x="77.80" y="277.15" width="22.60" height="22.20" fill="#80e080" stroke="#08c408" stroke-width="2.7"/>
<rect x="115.85" y="277.15" width="22.60" height="22.20" fill="#ff8888" stroke="#ff0000" stroke-width="2.7"/>
<text x="89.10" y="293.95" font-size="17.5" font-weight="normal" fill="#141414" text-anchor="middle" textLength="8.60" lengthAdjust="spacingAndGlyphs" stroke="#141414" stroke-width="0.25">3</text>
<text x="127.15" y="293.95" font-size="17.5" font-weight="normal" fill="#141414" text-anchor="middle" textLength="8.60" lengthAdjust="spacingAndGlyphs" stroke="#141414" stroke-width="0.25">1</text>
<text x="108.72" y="293.95" font-size="17.5" font-weight="normal" fill="#141414" text-anchor="middle" stroke="#141414" stroke-width="0.5">:</text>
<text transform="translate(12.2 381.80) rotate(-90)" font-size="11" font-weight="bold" fill="#141414" stroke="#141414" stroke-width="0.3" text-anchor="middle" textLength="85" lengthAdjust="spacingAndGlyphs">Relative percent</text>
<path d="M211.90 448.90V335.35H227.10V448.90" fill="#80e080" stroke="#08c408" stroke-width="2.1"/>
<path d="M219.50 334.30V331.44M214.90 331.44H224.10" stroke="#30cc30" stroke-width="1" fill="none"/>
<path d="M237.80 448.90V335.35H253.00V448.90" fill="#80e080" stroke="#08c408" stroke-width="2.1"/>
<path d="M245.40 334.30V319.98M240.80 319.98H250.00" stroke="#30cc30" stroke-width="1" fill="none"/>
<path d="M264.00 448.90V335.35H279.20V448.90" fill="#80e080" stroke="#08c408" stroke-width="2.1"/>
<path d="M271.60 334.30V328.57M267.00 328.57H276.20" stroke="#30cc30" stroke-width="1" fill="none"/>
<path d="M289.80 448.90V335.35H305.00V448.90" fill="#80e080" stroke="#08c408" stroke-width="2.1"/>
<path d="M297.40 334.30V327.42M292.80 327.42H302.00" stroke="#30cc30" stroke-width="1" fill="none"/>
<path d="M316.00 448.90V335.35H331.20V448.90" fill="#80e080" stroke="#08c408" stroke-width="2.1"/>
<path d="M323.60 334.30V332.24M319.00 332.24H328.20" stroke="#30cc30" stroke-width="1" fill="none"/>
<path d="M211.80 448.90V401.26H227.20V448.90" fill="#ff9080" stroke="#ff6a50" stroke-width="1.9"/>
<path d="M219.50 400.31V397.33M215.10 397.33H223.90" stroke="#d8601c" stroke-width="1" fill="none"/>
<path d="M237.70 448.90V373.76H253.10V448.90" fill="#ff9080" stroke="#ff6a50" stroke-width="1.9"/>
<path d="M245.40 372.81V358.37M241.00 358.37H249.80" stroke="#d8601c" stroke-width="1" fill="none"/>
<path d="M263.90 448.90V357.71H279.30V448.90" fill="#ff9080" stroke="#ff6a50" stroke-width="1.9"/>
<path d="M271.60 356.76V350.92M267.20 350.92H276.00" stroke="#d8601c" stroke-width="1" fill="none"/>
<path d="M289.70 448.90V348.54H305.10V448.90" fill="#ff9080" stroke="#ff6a50" stroke-width="1.9"/>
<path d="M297.40 347.59V340.60M293.00 340.60H301.80" stroke="#d8601c" stroke-width="1" fill="none"/>
<path d="M315.90 448.90V340.52H331.30V448.90" fill="#ff9080" stroke="#ff6a50" stroke-width="1.9"/>
<path d="M323.60 339.57V336.59M319.20 336.59H328.00" stroke="#d8601c" stroke-width="1" fill="none"/>
<path d="M202.60 310.80V448.90H340.60M196.10 448.90H202.60M196.10 425.98H202.60M196.10 403.06H202.60M196.10 380.14H202.60M196.10 357.22H202.60M196.10 334.30H202.60M196.10 311.38H202.60M219.50 448.90V454.40M245.40 448.90V454.40M271.60 448.90V454.40M297.40 448.90V454.40M323.60 448.90V454.40" stroke="#000" stroke-width="1.55" fill="none"/>
<text x="193.60" y="453.00" font-size="11.49" font-weight="bold" fill="#141414" text-anchor="end" textLength="5.35" lengthAdjust="spacingAndGlyphs" stroke="#141414" stroke-width="0.3">0</text>
<text x="193.60" y="430.08" font-size="11.49" font-weight="bold" fill="#141414" text-anchor="end" textLength="10.70" lengthAdjust="spacingAndGlyphs" stroke="#141414" stroke-width="0.3">20</text>
<text x="193.60" y="407.16" font-size="11.49" font-weight="bold" fill="#141414" text-anchor="end" textLength="10.70" lengthAdjust="spacingAndGlyphs" stroke="#141414" stroke-width="0.3">40</text>
<text x="193.60" y="384.24" font-size="11.49" font-weight="bold" fill="#141414" text-anchor="end" textLength="10.70" lengthAdjust="spacingAndGlyphs" stroke="#141414" stroke-width="0.3">60</text>
<text x="193.60" y="361.32" font-size="11.49" font-weight="bold" fill="#141414" text-anchor="end" textLength="10.70" lengthAdjust="spacingAndGlyphs" stroke="#141414" stroke-width="0.3">80</text>
<text x="193.60" y="338.40" font-size="11.49" font-weight="bold" fill="#141414" text-anchor="end" textLength="16.04" lengthAdjust="spacingAndGlyphs" stroke="#141414" stroke-width="0.3">100</text>
<text x="193.60" y="315.48" font-size="11.49" font-weight="bold" fill="#141414" text-anchor="end" textLength="16.04" lengthAdjust="spacingAndGlyphs" stroke="#141414" stroke-width="0.3">120</text>
<text x="219.50" y="467.70" font-size="11.49" font-weight="bold" fill="#141414" text-anchor="middle" textLength="14.19" lengthAdjust="spacingAndGlyphs" stroke="#141414" stroke-width="0.3">0.0</text>
<text x="245.40" y="467.70" font-size="11.49" font-weight="bold" fill="#141414" text-anchor="middle" textLength="14.19" lengthAdjust="spacingAndGlyphs" stroke="#141414" stroke-width="0.3">1.0</text>
<text x="271.60" y="467.70" font-size="11.49" font-weight="bold" fill="#141414" text-anchor="middle" textLength="14.19" lengthAdjust="spacingAndGlyphs" stroke="#141414" stroke-width="0.3">2.0</text>
<text x="297.40" y="467.70" font-size="11.49" font-weight="bold" fill="#141414" text-anchor="middle" textLength="14.19" lengthAdjust="spacingAndGlyphs" stroke="#141414" stroke-width="0.3">4.0</text>
<text x="323.60" y="467.70" font-size="11.49" font-weight="bold" fill="#141414" text-anchor="middle" textLength="14.19" lengthAdjust="spacingAndGlyphs" stroke="#141414" stroke-width="0.3">7.0</text>
<text x="273.40" y="479.80" font-size="11.6" font-weight="bold" fill="#141414" text-anchor="middle" textLength="25.20" lengthAdjust="spacingAndGlyphs" stroke="#141414" stroke-width="0.3">Days</text>
<text x="179.20" y="295.70" font-size="21" font-weight="normal" fill="#141414" text-anchor="start" textLength="18.41" lengthAdjust="spacingAndGlyphs" stroke="#141414" stroke-width="0.25">F)</text>
<rect x="238.30" y="277.15" width="22.60" height="22.20" fill="#80e080" stroke="#08c408" stroke-width="2.7"/>
<rect x="276.65" y="277.15" width="22.60" height="22.20" fill="#ff8888" stroke="#ff0000" stroke-width="2.7"/>
<text x="249.60" y="293.95" font-size="17.5" font-weight="normal" fill="#141414" text-anchor="middle" textLength="8.60" lengthAdjust="spacingAndGlyphs" stroke="#141414" stroke-width="0.25">1</text>
<text x="287.95" y="293.95" font-size="17.5" font-weight="normal" fill="#141414" text-anchor="middle" textLength="8.60" lengthAdjust="spacingAndGlyphs" stroke="#141414" stroke-width="0.25">1</text>
<text x="269.38" y="293.95" font-size="17.5" font-weight="normal" fill="#141414" text-anchor="middle" stroke="#141414" stroke-width="0.5">:</text>
<path d="M378.20 449.70V336.75H393.40V449.70" fill="#80e080" stroke="#08c408" stroke-width="2.1"/>
<path d="M404.10 449.70V336.75H419.30V449.70" fill="#80e080" stroke="#08c408" stroke-width="2.1"/>
<path d="M411.70 335.70V332.28M407.10 332.28H416.30" stroke="#30cc30" stroke-width="1" fill="none"/>
<path d="M429.70 449.70V336.75H444.90V449.70" fill="#80e080" stroke="#08c408" stroke-width="2.1"/>
<path d="M437.30 335.70V331.14M432.70 331.14H441.90" stroke="#30cc30" stroke-width="1" fill="none"/>
<path d="M455.60 449.70V336.75H470.80V449.70" fill="#80e080" stroke="#08c408" stroke-width="2.1"/>
<path d="M463.20 335.70V331.71M458.60 331.71H467.80" stroke="#30cc30" stroke-width="1" fill="none"/>
<path d="M481.20 449.70V336.75H496.40V449.70" fill="#80e080" stroke="#08c408" stroke-width="2.1"/>
<path d="M488.80 335.70V321.45M484.20 321.45H493.40" stroke="#30cc30" stroke-width="1" fill="none"/>
<path d="M378.10 449.70V420.55H393.50V449.70" fill="#8098ff" stroke="#5a78ff" stroke-width="1.9"/>
<path d="M385.80 419.60V418.92M381.40 418.92H390.20" stroke="#4058e8" stroke-width="1" fill="none"/>
<path d="M404.00 449.70V413.14H419.40V449.70" fill="#8098ff" stroke="#5a78ff" stroke-width="1.9"/>
<path d="M411.70 412.19V408.09M407.30 408.09H416.10" stroke="#4058e8" stroke-width="1" fill="none"/>
<path d="M429.60 449.70V409.72H445.00V449.70" fill="#8098ff" stroke="#5a78ff" stroke-width="1.9"/>
<path d="M437.30 408.77V403.53M432.90 403.53H441.70" stroke="#4058e8" stroke-width="1" fill="none"/>
<path d="M455.50 449.70V404.02H470.90V449.70" fill="#8098ff" stroke="#5a78ff" stroke-width="1.9"/>
<path d="M463.20 403.07V398.40M458.80 398.40H467.60" stroke="#4058e8" stroke-width="1" fill="none"/>
<path d="M481.10 449.70V371.53H496.50V449.70" fill="#8098ff" stroke="#5a78ff" stroke-width="1.9"/>
<path d="M488.80 370.58V356.79M484.40 356.79H493.20" stroke="#4058e8" stroke-width="1" fill="none"/>
<path d="M368.70 312.30V449.70H507.00M362.20 449.70H368.70M362.20 426.90H368.70M362.20 404.10H368.70M362.20 381.30H368.70M362.20 358.50H368.70M362.20 335.70H368.70M362.20 312.90H368.70M385.80 449.70V455.20M411.70 449.70V455.20M437.30 449.70V455.20M463.20 449.70V455.20M488.80 449.70V455.20" stroke="#000" stroke-width="1.55" fill="none"/>
<text x="360.10" y="453.78" font-size="11.43" font-weight="bold" fill="#141414" text-anchor="end" textLength="5.32" lengthAdjust="spacingAndGlyphs" stroke="#141414" stroke-width="0.3">0</text>
<text x="360.10" y="430.98" font-size="11.43" font-weight="bold" fill="#141414" text-anchor="end" textLength="10.64" lengthAdjust="spacingAndGlyphs" stroke="#141414" stroke-width="0.3">20</text>
<text x="360.10" y="408.18" font-size="11.43" font-weight="bold" fill="#141414" text-anchor="end" textLength="10.64" lengthAdjust="spacingAndGlyphs" stroke="#141414" stroke-width="0.3">40</text>
<text x="360.10" y="385.38" font-size="11.43" font-weight="bold" fill="#141414" text-anchor="end" textLength="10.64" lengthAdjust="spacingAndGlyphs" stroke="#141414" stroke-width="0.3">60</text>
<text x="360.10" y="362.58" font-size="11.43" font-weight="bold" fill="#141414" text-anchor="end" textLength="10.64" lengthAdjust="spacingAndGlyphs" stroke="#141414" stroke-width="0.3">80</text>
<text x="360.10" y="339.78" font-size="11.43" font-weight="bold" fill="#141414" text-anchor="end" textLength="15.96" lengthAdjust="spacingAndGlyphs" stroke="#141414" stroke-width="0.3">100</text>
<text x="360.10" y="316.98" font-size="11.43" font-weight="bold" fill="#141414" text-anchor="end" textLength="15.96" lengthAdjust="spacingAndGlyphs" stroke="#141414" stroke-width="0.3">120</text>
<text x="385.80" y="467.70" font-size="11.43" font-weight="bold" fill="#141414" text-anchor="middle" textLength="14.12" lengthAdjust="spacingAndGlyphs" stroke="#141414" stroke-width="0.3">0.0</text>
<text x="411.70" y="467.70" font-size="11.43" font-weight="bold" fill="#141414" text-anchor="middle" textLength="14.12" lengthAdjust="spacingAndGlyphs" stroke="#141414" stroke-width="0.3">1.0</text>
<text x="437.30" y="467.70" font-size="11.43" font-weight="bold" fill="#141414" text-anchor="middle" textLength="14.12" lengthAdjust="spacingAndGlyphs" stroke="#141414" stroke-width="0.3">2.0</text>
<text x="463.20" y="467.70" font-size="11.43" font-weight="bold" fill="#141414" text-anchor="middle" textLength="14.12" lengthAdjust="spacingAndGlyphs" stroke="#141414" stroke-width="0.3">4.0</text>
<text x="488.80" y="467.70" font-size="11.43" font-weight="bold" fill="#141414" text-anchor="middle" textLength="14.12" lengthAdjust="spacingAndGlyphs" stroke="#141414" stroke-width="0.3">7.0</text>
<text x="441.00" y="479.80" font-size="11.6" font-weight="bold" fill="#141414" text-anchor="middle" textLength="25.20" lengthAdjust="spacingAndGlyphs" stroke="#141414" stroke-width="0.3">Days</text>
<text x="342.41" y="295.70" font-size="21" font-weight="normal" fill="#141414" text-anchor="start" textLength="22.02" lengthAdjust="spacingAndGlyphs" stroke="#141414" stroke-width="0.25">G)</text>
<rect x="406.60" y="277.20" width="22.60" height="22.20" fill="#80e080" stroke="#08c408" stroke-width="2.7"/>
<rect x="444.65" y="277.20" width="22.60" height="22.20" fill="#8098ff" stroke="#0030ff" stroke-width="2.7"/>
<text x="417.90" y="294.00" font-size="17.5" font-weight="normal" fill="#141414" text-anchor="middle" textLength="8.60" lengthAdjust="spacingAndGlyphs" stroke="#141414" stroke-width="0.25">3</text>
<text x="455.95" y="294.00" font-size="17.5" font-weight="normal" fill="#141414" text-anchor="middle" textLength="8.60" lengthAdjust="spacingAndGlyphs" stroke="#141414" stroke-width="0.25">1</text>
<text x="437.52" y="294.00" font-size="17.5" font-weight="normal" fill="#141414" text-anchor="middle" stroke="#141414" stroke-width="0.5">:</text>
<path d="M547.20 447.10V332.12H562.40V447.10" fill="#80e080" stroke="#08c408" stroke-width="2.1"/>
<path d="M573.60 447.10V332.12H588.80V447.10" fill="#80e080" stroke="#08c408" stroke-width="2.1"/>
<path d="M581.20 331.07V324.19M576.60 324.19H585.80" stroke="#30cc30" stroke-width="1" fill="none"/>
<path d="M599.90 447.10V332.12H615.10V447.10" fill="#80e080" stroke="#08c408" stroke-width="2.1"/>
<path d="M607.50 331.07V321.28M602.90 321.28H612.10" stroke="#30cc30" stroke-width="1" fill="none"/>
<path d="M625.90 447.10V332.12H641.10V447.10" fill="#80e080" stroke="#08c408" stroke-width="2.1"/>
<path d="M633.50 331.07V321.28M628.90 321.28H638.10" stroke="#30cc30" stroke-width="1" fill="none"/>
<path d="M652.30 447.10V332.12H667.50V447.10" fill="#80e080" stroke="#08c408" stroke-width="2.1"/>
<path d="M659.90 331.07V323.61M655.30 323.61H664.50" stroke="#30cc30" stroke-width="1" fill="none"/>
<path d="M547.10 447.10V392.83H562.50V447.10" fill="#8098ff" stroke="#5a78ff" stroke-width="1.9"/>
<path d="M554.80 391.88V391.18M550.40 391.18H559.20" stroke="#4058e8" stroke-width="1" fill="none"/>
<path d="M573.50 447.10V380.01H588.90V447.10" fill="#8098ff" stroke="#5a78ff" stroke-width="1.9"/>
<path d="M581.20 379.06V371.38M576.80 371.38H585.60" stroke="#4058e8" stroke-width="1" fill="none"/>
<path d="M599.80 447.10V375.35H615.20V447.10" fill="#8098ff" stroke="#5a78ff" stroke-width="1.9"/>
<path d="M607.50 374.40V364.38M603.10 364.38H611.90" stroke="#4058e8" stroke-width="1" fill="none"/>
<path d="M625.80 447.10V373.02H641.20V447.10" fill="#8098ff" stroke="#5a78ff" stroke-width="1.9"/>
<path d="M633.50 372.07V362.64M629.10 362.64H637.90" stroke="#4058e8" stroke-width="1" fill="none"/>
<path d="M652.20 447.10V342.73H667.60V447.10" fill="#8098ff" stroke="#5a78ff" stroke-width="1.9"/>
<path d="M659.90 341.78V333.51M655.50 333.51H664.30" stroke="#4058e8" stroke-width="1" fill="none"/>
<path d="M537.20 306.70V447.10H677.50M530.70 447.10H537.20M530.70 423.80H537.20M530.70 400.50H537.20M530.70 377.20H537.20M530.70 353.90H537.20M530.70 330.60H537.20M530.70 307.30H537.20M554.80 447.10V452.60M581.20 447.10V452.60M607.50 447.10V452.60M633.50 447.10V452.60M659.90 447.10V452.60" stroke="#000" stroke-width="1.55" fill="none"/>
<text x="529.10" y="451.27" font-size="11.69" font-weight="bold" fill="#141414" text-anchor="end" textLength="5.44" lengthAdjust="spacingAndGlyphs" stroke="#141414" stroke-width="0.3">0</text>
<text x="529.10" y="427.97" font-size="11.69" font-weight="bold" fill="#141414" text-anchor="end" textLength="10.87" lengthAdjust="spacingAndGlyphs" stroke="#141414" stroke-width="0.3">20</text>
<text x="529.10" y="404.67" font-size="11.69" font-weight="bold" fill="#141414" text-anchor="end" textLength="10.87" lengthAdjust="spacingAndGlyphs" stroke="#141414" stroke-width="0.3">40</text>
<text x="529.10" y="381.37" font-size="11.69" font-weight="bold" fill="#141414" text-anchor="end" textLength="10.87" lengthAdjust="spacingAndGlyphs" stroke="#141414" stroke-width="0.3">60</text>
<text x="529.10" y="358.07" font-size="11.69" font-weight="bold" fill="#141414" text-anchor="end" textLength="10.87" lengthAdjust="spacingAndGlyphs" stroke="#141414" stroke-width="0.3">80</text>
<text x="529.10" y="334.77" font-size="11.69" font-weight="bold" fill="#141414" text-anchor="end" textLength="16.31" lengthAdjust="spacingAndGlyphs" stroke="#141414" stroke-width="0.3">100</text>
<text x="529.10" y="311.47" font-size="11.69" font-weight="bold" fill="#141414" text-anchor="end" textLength="16.31" lengthAdjust="spacingAndGlyphs" stroke="#141414" stroke-width="0.3">120</text>
<text x="554.80" y="466.00" font-size="11.69" font-weight="bold" fill="#141414" text-anchor="middle" textLength="14.43" lengthAdjust="spacingAndGlyphs" stroke="#141414" stroke-width="0.3">0.0</text>
<text x="581.20" y="466.00" font-size="11.69" font-weight="bold" fill="#141414" text-anchor="middle" textLength="14.43" lengthAdjust="spacingAndGlyphs" stroke="#141414" stroke-width="0.3">1.0</text>
<text x="607.50" y="466.00" font-size="11.69" font-weight="bold" fill="#141414" text-anchor="middle" textLength="14.43" lengthAdjust="spacingAndGlyphs" stroke="#141414" stroke-width="0.3">2.0</text>
<text x="633.50" y="466.00" font-size="11.69" font-weight="bold" fill="#141414" text-anchor="middle" textLength="14.43" lengthAdjust="spacingAndGlyphs" stroke="#141414" stroke-width="0.3">4.0</text>
<text x="659.90" y="466.00" font-size="11.69" font-weight="bold" fill="#141414" text-anchor="middle" textLength="14.43" lengthAdjust="spacingAndGlyphs" stroke="#141414" stroke-width="0.3">7.0</text>
<text x="606.50" y="479.80" font-size="11.6" font-weight="bold" fill="#141414" text-anchor="middle" textLength="25.20" lengthAdjust="spacingAndGlyphs" stroke="#141414" stroke-width="0.3">Days</text>
<text x="510.57" y="295.70" font-size="21" font-weight="normal" fill="#141414" text-anchor="start" textLength="22.24" lengthAdjust="spacingAndGlyphs" stroke="#141414" stroke-width="0.25">H)</text>
<rect x="574.70" y="277.15" width="22.60" height="22.20" fill="#80e080" stroke="#08c408" stroke-width="2.7"/>
<rect x="612.80" y="277.15" width="22.60" height="22.20" fill="#8098ff" stroke="#0030ff" stroke-width="2.7"/>
<text x="586.00" y="293.95" font-size="17.5" font-weight="normal" fill="#141414" text-anchor="middle" textLength="8.60" lengthAdjust="spacingAndGlyphs" stroke="#141414" stroke-width="0.25">1</text>
<text x="624.10" y="293.95" font-size="17.5" font-weight="normal" fill="#141414" text-anchor="middle" textLength="8.60" lengthAdjust="spacingAndGlyphs" stroke="#141414" stroke-width="0.25">1</text>
<text x="605.65" y="293.95" font-size="17.5" font-weight="normal" fill="#141414" text-anchor="middle" stroke="#141414" stroke-width="0.5">:</text>
<path d="M47.70 701.80V580.29H62.90V701.80" fill="#80e080" stroke="#08c408" stroke-width="2.1"/>
<path d="M55.30 579.24V578.27M50.70 578.27H59.90" stroke="#30cc30" stroke-width="1" fill="none"/>
<path d="M73.60 701.80V582.10H88.80V701.80" fill="#80e080" stroke="#08c408" stroke-width="2.1"/>
<path d="M81.20 581.05V577.43M76.60 577.43H85.80" stroke="#30cc30" stroke-width="1" fill="none"/>
<path d="M99.40 701.80V582.10H114.60V701.80" fill="#80e080" stroke="#08c408" stroke-width="2.1"/>
<path d="M107.00 581.05V578.39M102.40 578.39H111.60" stroke="#30cc30" stroke-width="1" fill="none"/>
<path d="M125.30 701.80V582.10H140.50V701.80" fill="#80e080" stroke="#08c408" stroke-width="2.1"/>
<path d="M132.90 581.05V577.43M128.30 577.43H137.50" stroke="#30cc30" stroke-width="1" fill="none"/>
<path d="M151.40 701.80V582.10H166.60V701.80" fill="#80e080" stroke="#08c408" stroke-width="2.1"/>
<path d="M159.00 581.05V577.43M154.40 577.43H163.60" stroke="#30cc30" stroke-width="1" fill="none"/>
<path d="M47.60 701.80V646.84H63.00V701.80" fill="#ff9080" stroke="#ff6a50" stroke-width="1.9"/>
<path d="M55.30 645.89V645.29M50.90 645.29H59.70" stroke="#d08040" stroke-width="1" fill="none"/>
<path d="M73.50 701.80V648.05H88.90V701.80" fill="#ff9080" stroke="#ff6a50" stroke-width="1.9"/>
<path d="M81.20 647.10V642.63M76.80 642.63H85.60" stroke="#d08040" stroke-width="1" fill="none"/>
<path d="M99.30 701.80V645.03H114.70V701.80" fill="#ff9080" stroke="#ff6a50" stroke-width="1.9"/>
<path d="M107.00 644.08V640.82M102.60 640.82H111.40" stroke="#d08040" stroke-width="1" fill="none"/>
<path d="M125.20 701.80V640.32H140.60V701.80" fill="#ff9080" stroke="#ff6a50" stroke-width="1.9"/>
<path d="M132.90 639.37V635.99M128.50 635.99H137.30" stroke="#d08040" stroke-width="1" fill="none"/>
<path d="M151.30 701.80V610.74H166.70V701.80" fill="#ff9080" stroke="#ff6a50" stroke-width="1.9"/>
<path d="M159.00 609.79V605.80M154.60 605.80H163.40" stroke="#d08040" stroke-width="1" fill="none"/>
<path d="M38.20 568.60V701.80H176.30M31.70 701.80H38.20M31.70 677.65H38.20M31.70 653.50H38.20M31.70 629.35H38.20M31.70 605.20H38.20M31.70 581.05H38.20M55.30 701.80V707.30M81.20 701.80V707.30M107.00 701.80V707.30M132.90 701.80V707.30M159.00 701.80V707.30" stroke="#000" stroke-width="1.55" fill="none"/>
<text x="30.10" y="706.12" font-size="12.11" font-weight="bold" fill="#141414" text-anchor="end" textLength="5.63" lengthAdjust="spacingAndGlyphs" stroke="#141414" stroke-width="0.3">0</text>
<text x="30.10" y="681.97" font-size="12.11" font-weight="bold" fill="#141414" text-anchor="end" textLength="11.27" lengthAdjust="spacingAndGlyphs" stroke="#141414" stroke-width="0.3">20</text>
<text x="30.10" y="657.82" font-size="12.11" font-weight="bold" fill="#141414" text-anchor="end" textLength="11.27" lengthAdjust="spacingAndGlyphs" stroke="#141414" stroke-width="0.3">40</text>
<text x="30.10" y="633.67" font-size="12.11" font-weight="bold" fill="#141414" text-anchor="end" textLength="11.27" lengthAdjust="spacingAndGlyphs" stroke="#141414" stroke-width="0.3">60</text>
<text x="30.10" y="609.52" font-size="12.11" font-weight="bold" fill="#141414" text-anchor="end" textLength="11.27" lengthAdjust="spacingAndGlyphs" stroke="#141414" stroke-width="0.3">80</text>
<text x="30.10" y="585.37" font-size="12.11" font-weight="bold" fill="#141414" text-anchor="end" textLength="16.90" lengthAdjust="spacingAndGlyphs" stroke="#141414" stroke-width="0.3">100</text>
<text x="55.30" y="720.10" font-size="12.11" font-weight="bold" fill="#141414" text-anchor="middle" textLength="14.96" lengthAdjust="spacingAndGlyphs" stroke="#141414" stroke-width="0.3">0.0</text>
<text x="81.20" y="720.10" font-size="12.11" font-weight="bold" fill="#141414" text-anchor="middle" textLength="14.96" lengthAdjust="spacingAndGlyphs" stroke="#141414" stroke-width="0.3">1.0</text>
<text x="107.00" y="720.10" font-size="12.11" font-weight="bold" fill="#141414" text-anchor="middle" textLength="14.96" lengthAdjust="spacingAndGlyphs" stroke="#141414" stroke-width="0.3">2.0</text>
<text x="132.90" y="720.10" font-size="12.11" font-weight="bold" fill="#141414" text-anchor="middle" textLength="14.96" lengthAdjust="spacingAndGlyphs" stroke="#141414" stroke-width="0.3">3.0</text>
<text x="159.00" y="720.10" font-size="12.11" font-weight="bold" fill="#141414" text-anchor="middle" textLength="14.96" lengthAdjust="spacingAndGlyphs" stroke="#141414" stroke-width="0.3">6.0</text>
<text x="110.50" y="729.80" font-size="11.6" font-weight="bold" fill="#141414" text-anchor="middle" textLength="25.20" lengthAdjust="spacingAndGlyphs" stroke="#141414" stroke-width="0.3">Days</text>
<text x="14.51" y="557.80" font-size="21" font-weight="normal" fill="#141414" text-anchor="start" textLength="13.23" lengthAdjust="spacingAndGlyphs" stroke="#141414" stroke-width="0.25">I)</text>
<rect x="76.80" y="539.30" width="22.60" height="22.20" fill="#80e080" stroke="#08c408" stroke-width="2.7"/>
<rect x="115.25" y="539.30" width="22.60" height="22.20" fill="#ff8888" stroke="#ff0000" stroke-width="2.7"/>
<text x="88.10" y="556.10" font-size="17.5" font-weight="normal" fill="#141414" text-anchor="middle" textLength="8.60" lengthAdjust="spacingAndGlyphs" stroke="#141414" stroke-width="0.25">3</text>
<text x="126.55" y="556.10" font-size="17.5" font-weight="normal" fill="#141414" text-anchor="middle" textLength="8.60" lengthAdjust="spacingAndGlyphs" stroke="#141414" stroke-width="0.25">1</text>
<text x="107.92" y="556.10" font-size="17.5" font-weight="normal" fill="#141414" text-anchor="middle" stroke="#141414" stroke-width="0.5">:</text>
<text transform="translate(12.2 633.40) rotate(-90)" font-size="11" font-weight="bold" fill="#141414" stroke="#141414" stroke-width="0.3" text-anchor="middle" textLength="85" lengthAdjust="spacingAndGlyphs">Relative percent</text>
<path d="M211.35 702.50V578.45H227.05V702.50" fill="#80e080" stroke="#08c408" stroke-width="2.1"/>
<path d="M219.20 577.40V576.17M214.60 576.17H223.80" stroke="#30cc30" stroke-width="1" fill="none"/>
<path d="M237.95 702.50V580.18H253.65V702.50" fill="#80e080" stroke="#08c408" stroke-width="2.1"/>
<path d="M245.80 579.13V574.57M241.20 574.57H250.40" stroke="#30cc30" stroke-width="1" fill="none"/>
<path d="M264.25 702.50V579.68H279.95V702.50" fill="#80e080" stroke="#08c408" stroke-width="2.1"/>
<path d="M272.10 578.63V575.55M267.50 575.55H276.70" stroke="#30cc30" stroke-width="1" fill="none"/>
<path d="M290.95 702.50V580.18H306.65V702.50" fill="#80e080" stroke="#08c408" stroke-width="2.1"/>
<path d="M298.80 579.13V574.94M294.20 574.94H303.40" stroke="#30cc30" stroke-width="1" fill="none"/>
<path d="M317.25 702.50V579.81H332.95V702.50" fill="#80e080" stroke="#08c408" stroke-width="2.1"/>
<path d="M325.10 578.76V574.94M320.50 574.94H329.70" stroke="#30cc30" stroke-width="1" fill="none"/>
<path d="M211.25 702.50V646.14H227.15V702.50" fill="#ff9080" stroke="#ff6a50" stroke-width="1.9"/>
<path d="M219.20 645.19V644.57M214.80 644.57H223.60" stroke="#d08040" stroke-width="1" fill="none"/>
<path d="M237.85 702.50V647.37H253.75V702.50" fill="#ff9080" stroke="#ff6a50" stroke-width="1.9"/>
<path d="M245.80 646.42V641.12M241.40 641.12H250.20" stroke="#d08040" stroke-width="1" fill="none"/>
<path d="M264.15 702.50V644.29H280.05V702.50" fill="#ff9080" stroke="#ff6a50" stroke-width="1.9"/>
<path d="M272.10 643.34V639.89M267.70 639.89H276.50" stroke="#d08040" stroke-width="1" fill="none"/>
<path d="M290.85 702.50V639.85H306.75V702.50" fill="#ff9080" stroke="#ff6a50" stroke-width="1.9"/>
<path d="M298.80 638.90V634.96M294.40 634.96H303.20" stroke="#d08040" stroke-width="1" fill="none"/>
<path d="M317.15 702.50V609.16H333.05V702.50" fill="#ff9080" stroke="#ff6a50" stroke-width="1.9"/>
<path d="M325.10 608.21V604.15M320.70 604.15H329.50" stroke="#d08040" stroke-width="1" fill="none"/>
<path d="M202.00 567.00V702.50H343.00M195.50 702.50H202.00M195.50 677.85H202.00M195.50 653.20H202.00M195.50 628.55H202.00M195.50 603.90H202.00M195.50 579.25H202.00M219.20 702.50V708.00M245.80 702.50V708.00M272.10 702.50V708.00M298.80 702.50V708.00M325.10 702.50V708.00" stroke="#000" stroke-width="1.55" fill="none"/>
<text x="193.90" y="706.91" font-size="12.36" font-weight="bold" fill="#141414" text-anchor="end" textLength="5.75" lengthAdjust="spacingAndGlyphs" stroke="#141414" stroke-width="0.3">0</text>
<text x="193.90" y="682.26" font-size="12.36" font-weight="bold" fill="#141414" text-anchor="end" textLength="11.50" lengthAdjust="spacingAndGlyphs" stroke="#141414" stroke-width="0.3">20</text>
<text x="193.90" y="657.61" font-size="12.36" font-weight="bold" fill="#141414" text-anchor="end" textLength="11.50" lengthAdjust="spacingAndGlyphs" stroke="#141414" stroke-width="0.3">40</text>
<text x="193.90" y="632.96" font-size="12.36" font-weight="bold" fill="#141414" text-anchor="end" textLength="11.50" lengthAdjust="spacingAndGlyphs" stroke="#141414" stroke-width="0.3">60</text>
<text x="193.90" y="608.31" font-size="12.36" font-weight="bold" fill="#141414" text-anchor="end" textLength="11.50" lengthAdjust="spacingAndGlyphs" stroke="#141414" stroke-width="0.3">80</text>
<text x="193.90" y="583.66" font-size="12.36" font-weight="bold" fill="#141414" text-anchor="end" textLength="17.25" lengthAdjust="spacingAndGlyphs" stroke="#141414" stroke-width="0.3">100</text>
<text x="219.20" y="720.60" font-size="12.36" font-weight="bold" fill="#141414" text-anchor="middle" textLength="15.27" lengthAdjust="spacingAndGlyphs" stroke="#141414" stroke-width="0.3">0.0</text>
<text x="245.80" y="720.60" font-size="12.36" font-weight="bold" fill="#141414" text-anchor="middle" textLength="15.27" lengthAdjust="spacingAndGlyphs" stroke="#141414" stroke-width="0.3">1.0</text>
<text x="272.10" y="720.60" font-size="12.36" font-weight="bold" fill="#141414" text-anchor="middle" textLength="15.27" lengthAdjust="spacingAndGlyphs" stroke="#141414" stroke-width="0.3">2.0</text>
<text x="298.80" y="720.60" font-size="12.36" font-weight="bold" fill="#141414" text-anchor="middle" textLength="15.27" lengthAdjust="spacingAndGlyphs" stroke="#141414" stroke-width="0.3">3.0</text>
<text x="325.10" y="720.60" font-size="12.36" font-weight="bold" fill="#141414" text-anchor="middle" textLength="15.27" lengthAdjust="spacingAndGlyphs" stroke="#141414" stroke-width="0.3">6.0</text>
<text x="286.40" y="730.00" font-size="11.6" font-weight="bold" fill="#141414" text-anchor="middle" textLength="25.20" lengthAdjust="spacingAndGlyphs" stroke="#141414" stroke-width="0.3">Days</text>
<text x="183.72" y="557.80" font-size="21" font-weight="normal" fill="#141414" text-anchor="start" textLength="14.56" lengthAdjust="spacingAndGlyphs" stroke="#141414" stroke-width="0.25">J)</text>
<rect x="240.30" y="539.30" width="22.60" height="22.20" fill="#80e080" stroke="#08c408" stroke-width="2.7"/>
<rect x="278.80" y="539.30" width="22.60" height="22.20" fill="#ff8888" stroke="#ff0000" stroke-width="2.7"/>
<text x="251.60" y="556.10" font-size="17.5" font-weight="normal" fill="#141414" text-anchor="middle" textLength="8.60" lengthAdjust="spacingAndGlyphs" stroke="#141414" stroke-width="0.25">1</text>
<text x="290.10" y="556.10" font-size="17.5" font-weight="normal" fill="#141414" text-anchor="middle" textLength="8.60" lengthAdjust="spacingAndGlyphs" stroke="#141414" stroke-width="0.25">1</text>
<text x="271.45" y="556.10" font-size="17.5" font-weight="normal" fill="#141414" text-anchor="middle" stroke="#141414" stroke-width="0.5">:</text>
<path d="M376.85 702.30V581.35H392.35V702.30" fill="#80e080" stroke="#08c408" stroke-width="2.1"/>
<path d="M384.60 580.30V579.08M380.00 579.08H389.20" stroke="#30cc30" stroke-width="1" fill="none"/>
<path d="M403.25 702.30V581.96H418.75V702.30" fill="#80e080" stroke="#08c408" stroke-width="2.1"/>
<path d="M411.00 580.91V576.03M406.40 576.03H415.60" stroke="#30cc30" stroke-width="1" fill="none"/>
<path d="M429.35 702.30V584.40H444.85V702.30" fill="#80e080" stroke="#08c408" stroke-width="2.1"/>
<path d="M455.75 702.30V581.35H471.25V702.30" fill="#80e080" stroke="#08c408" stroke-width="2.1"/>
<path d="M463.50 580.30V576.03M458.90 576.03H468.10" stroke="#30cc30" stroke-width="1" fill="none"/>
<path d="M481.85 702.30V581.35H497.35V702.30" fill="#80e080" stroke="#08c408" stroke-width="2.1"/>
<path d="M489.60 580.30V574.20M485.00 574.20H494.20" stroke="#30cc30" stroke-width="1" fill="none"/>
<path d="M376.75 702.30V670.80H392.45V702.30" fill="#8098ff" stroke="#0030ff" stroke-width="1.9"/>
<path d="M384.60 669.85V668.38M380.20 668.38H389.00" stroke="#2048e0" stroke-width="1" fill="none"/>
<path d="M403.15 702.30V667.63H418.85V702.30" fill="#8098ff" stroke="#0030ff" stroke-width="1.9"/>
<path d="M411.00 666.68V661.67M406.60 661.67H415.40" stroke="#2048e0" stroke-width="1" fill="none"/>
<path d="M429.25 702.30V669.46H444.95V702.30" fill="#8098ff" stroke="#0030ff" stroke-width="1.9"/>
<path d="M437.10 668.51V664.72M432.70 664.72H441.50" stroke="#2048e0" stroke-width="1" fill="none"/>
<path d="M455.65 702.30V664.58H471.35V702.30" fill="#8098ff" stroke="#0030ff" stroke-width="1.9"/>
<path d="M463.50 663.63V659.23M459.10 659.23H467.90" stroke="#2048e0" stroke-width="1" fill="none"/>
<path d="M481.75 702.30V637.37H497.45V702.30" fill="#8098ff" stroke="#0030ff" stroke-width="1.9"/>
<path d="M489.60 636.42V630.56M485.20 630.56H494.00" stroke="#2048e0" stroke-width="1" fill="none"/>
<path d="M367.70 567.40V702.30H507.50M361.20 702.30H367.70M361.20 677.90H367.70M361.20 653.50H367.70M361.20 629.10H367.70M361.20 604.70H367.70M361.20 580.30H367.70M384.60 702.30V707.80M411.00 702.30V707.80M437.10 702.30V707.80M463.50 702.30V707.80M489.60 702.30V707.80" stroke="#000" stroke-width="1.55" fill="none"/>
<text x="359.60" y="706.66" font-size="12.24" font-weight="bold" fill="#141414" text-anchor="end" textLength="5.69" lengthAdjust="spacingAndGlyphs" stroke="#141414" stroke-width="0.3">0</text>
<text x="359.60" y="682.26" font-size="12.24" font-weight="bold" fill="#141414" text-anchor="end" textLength="11.39" lengthAdjust="spacingAndGlyphs" stroke="#141414" stroke-width="0.3">20</text>
<text x="359.60" y="657.86" font-size="12.24" font-weight="bold" fill="#141414" text-anchor="end" textLength="11.39" lengthAdjust="spacingAndGlyphs" stroke="#141414" stroke-width="0.3">40</text>
<text x="359.60" y="633.46" font-size="12.24" font-weight="bold" fill="#141414" text-anchor="end" textLength="11.39" lengthAdjust="spacingAndGlyphs" stroke="#141414" stroke-width="0.3">60</text>
<text x="359.60" y="609.06" font-size="12.24" font-weight="bold" fill="#141414" text-anchor="end" textLength="11.39" lengthAdjust="spacingAndGlyphs" stroke="#141414" stroke-width="0.3">80</text>
<text x="359.60" y="584.66" font-size="12.24" font-weight="bold" fill="#141414" text-anchor="end" textLength="17.08" lengthAdjust="spacingAndGlyphs" stroke="#141414" stroke-width="0.3">100</text>
<text x="384.60" y="719.70" font-size="12.24" font-weight="bold" fill="#141414" text-anchor="middle" textLength="15.11" lengthAdjust="spacingAndGlyphs" stroke="#141414" stroke-width="0.3">0.0</text>
<text x="411.00" y="719.70" font-size="12.24" font-weight="bold" fill="#141414" text-anchor="middle" textLength="15.11" lengthAdjust="spacingAndGlyphs" stroke="#141414" stroke-width="0.3">1.0</text>
<text x="437.10" y="719.70" font-size="12.24" font-weight="bold" fill="#141414" text-anchor="middle" textLength="15.11" lengthAdjust="spacingAndGlyphs" stroke="#141414" stroke-width="0.3">2.0</text>
<text x="463.50" y="719.70" font-size="12.24" font-weight="bold" fill="#141414" text-anchor="middle" textLength="15.11" lengthAdjust="spacingAndGlyphs" stroke="#141414" stroke-width="0.3">3.0</text>
<text x="489.60" y="719.70" font-size="12.24" font-weight="bold" fill="#141414" text-anchor="middle" textLength="15.11" lengthAdjust="spacingAndGlyphs" stroke="#141414" stroke-width="0.3">6.0</text>
<text x="439.60" y="730.20" font-size="11.6" font-weight="bold" fill="#141414" text-anchor="middle" textLength="25.20" lengthAdjust="spacingAndGlyphs" stroke="#141414" stroke-width="0.3">Days</text>
<text x="344.79" y="557.80" font-size="21" font-weight="normal" fill="#141414" text-anchor="start" textLength="19.63" lengthAdjust="spacingAndGlyphs" stroke="#141414" stroke-width="0.25">K)</text>
<rect x="405.35" y="539.30" width="22.60" height="22.20" fill="#80e080" stroke="#08c408" stroke-width="2.7"/>
<rect x="443.45" y="539.30" width="22.60" height="22.20" fill="#8098ff" stroke="#0030ff" stroke-width="2.7"/>
<text x="416.65" y="556.10" font-size="17.5" font-weight="normal" fill="#141414" text-anchor="middle" textLength="8.60" lengthAdjust="spacingAndGlyphs" stroke="#141414" stroke-width="0.25">3</text>
<text x="454.75" y="556.10" font-size="17.5" font-weight="normal" fill="#141414" text-anchor="middle" textLength="8.60" lengthAdjust="spacingAndGlyphs" stroke="#141414" stroke-width="0.25">1</text>
<text x="436.30" y="556.10" font-size="17.5" font-weight="normal" fill="#141414" text-anchor="middle" stroke="#141414" stroke-width="0.5">:</text>
<path d="M546.00 701.70V580.74H561.80V701.70" fill="#80e080" stroke="#08c408" stroke-width="2.1"/>
<path d="M553.90 579.69V577.73M549.30 577.73H558.50" stroke="#30cc30" stroke-width="1" fill="none"/>
<path d="M572.10 701.70V580.74H587.90V701.70" fill="#80e080" stroke="#08c408" stroke-width="2.1"/>
<path d="M580.00 579.69V575.77M575.40 575.77H584.60" stroke="#30cc30" stroke-width="1" fill="none"/>
<path d="M598.10 701.70V580.74H613.90V701.70" fill="#80e080" stroke="#08c408" stroke-width="2.1"/>
<path d="M606.00 579.69V577.73M601.40 577.73H610.60" stroke="#30cc30" stroke-width="1" fill="none"/>
<path d="M624.10 701.70V580.74H639.90V701.70" fill="#80e080" stroke="#08c408" stroke-width="2.1"/>
<path d="M632.00 579.69V577.73M627.40 577.73H636.60" stroke="#30cc30" stroke-width="1" fill="none"/>
<path d="M650.50 701.70V580.74H666.30V701.70" fill="#80e080" stroke="#08c408" stroke-width="2.1"/>
<path d="M658.40 579.69V575.77M653.80 575.77H663.00" stroke="#30cc30" stroke-width="1" fill="none"/>
<path d="M545.90 701.70V648.02H561.90V701.70" fill="#8098ff" stroke="#0030ff" stroke-width="1.9"/>
<path d="M553.90 647.07V645.35M549.50 645.35H558.30" stroke="#2048e0" stroke-width="1" fill="none"/>
<path d="M572.00 701.70V644.95H588.00V701.70" fill="#8098ff" stroke="#0030ff" stroke-width="1.9"/>
<path d="M580.00 644.00V639.96M575.60 639.96H584.40" stroke="#2048e0" stroke-width="1" fill="none"/>
<path d="M598.00 701.70V644.34H614.00V701.70" fill="#8098ff" stroke="#0030ff" stroke-width="1.9"/>
<path d="M606.00 643.39V641.68M601.60 641.68H610.40" stroke="#2048e0" stroke-width="1" fill="none"/>
<path d="M624.00 701.70V640.05H640.00V701.70" fill="#8098ff" stroke="#0030ff" stroke-width="1.9"/>
<path d="M632.00 639.10V637.39M627.60 637.39H636.40" stroke="#2048e0" stroke-width="1" fill="none"/>
<path d="M650.40 701.70V611.27H666.40V701.70" fill="#8098ff" stroke="#0030ff" stroke-width="1.9"/>
<path d="M658.40 610.32V606.76M654.00 606.76H662.80" stroke="#2048e0" stroke-width="1" fill="none"/>
<path d="M536.90 566.80V701.70H676.00M530.40 701.70H536.90M530.40 677.20H536.90M530.40 652.70H536.90M530.40 628.20H536.90M530.40 603.70H536.90M530.40 579.20H536.90M553.90 701.70V707.20M580.00 701.70V707.20M606.00 701.70V707.20M632.00 701.70V707.20M658.40 701.70V707.20" stroke="#000" stroke-width="1.55" fill="none"/>
<text x="528.80" y="706.08" font-size="12.29" font-weight="bold" fill="#141414" text-anchor="end" textLength="5.72" lengthAdjust="spacingAndGlyphs" stroke="#141414" stroke-width="0.3">0</text>
<text x="528.80" y="681.58" font-size="12.29" font-weight="bold" fill="#141414" text-anchor="end" textLength="11.43" lengthAdjust="spacingAndGlyphs" stroke="#141414" stroke-width="0.3">20</text>
<text x="528.80" y="657.08" font-size="12.29" font-weight="bold" fill="#141414" text-anchor="end" textLength="11.43" lengthAdjust="spacingAndGlyphs" stroke="#141414" stroke-width="0.3">40</text>
<text x="528.80" y="632.58" font-size="12.29" font-weight="bold" fill="#141414" text-anchor="end" textLength="11.43" lengthAdjust="spacingAndGlyphs" stroke="#141414" stroke-width="0.3">60</text>
<text x="528.80" y="608.08" font-size="12.29" font-weight="bold" fill="#141414" text-anchor="end" textLength="11.43" lengthAdjust="spacingAndGlyphs" stroke="#141414" stroke-width="0.3">80</text>
<text x="528.80" y="583.58" font-size="12.29" font-weight="bold" fill="#141414" text-anchor="end" textLength="17.15" lengthAdjust="spacingAndGlyphs" stroke="#141414" stroke-width="0.3">100</text>
<text x="553.90" y="718.90" font-size="12.29" font-weight="bold" fill="#141414" text-anchor="middle" textLength="15.17" lengthAdjust="spacingAndGlyphs" stroke="#141414" stroke-width="0.3">0.0</text>
<text x="580.00" y="718.90" font-size="12.29" font-weight="bold" fill="#141414" text-anchor="middle" textLength="15.17" lengthAdjust="spacingAndGlyphs" stroke="#141414" stroke-width="0.3">1.0</text>
<text x="606.00" y="718.90" font-size="12.29" font-weight="bold" fill="#141414" text-anchor="middle" textLength="15.17" lengthAdjust="spacingAndGlyphs" stroke="#141414" stroke-width="0.3">2.0</text>
<text x="632.00" y="718.90" font-size="12.29" font-weight="bold" fill="#141414" text-anchor="middle" textLength="15.17" lengthAdjust="spacingAndGlyphs" stroke="#141414" stroke-width="0.3">3.0</text>
<text x="658.40" y="718.90" font-size="12.29" font-weight="bold" fill="#141414" text-anchor="middle" textLength="15.17" lengthAdjust="spacingAndGlyphs" stroke="#141414" stroke-width="0.3">6.0</text>
<text x="605.70" y="730.30" font-size="11.6" font-weight="bold" fill="#141414" text-anchor="middle" textLength="25.20" lengthAdjust="spacingAndGlyphs" stroke="#141414" stroke-width="0.3">Days</text>
<text x="514.85" y="557.80" font-size="21" font-weight="normal" fill="#141414" text-anchor="start" textLength="17.90" lengthAdjust="spacingAndGlyphs" stroke="#141414" stroke-width="0.25">L)</text>
<rect x="572.60" y="539.00" width="22.60" height="22.20" fill="#80e080" stroke="#08c408" stroke-width="2.7"/>
<rect x="611.00" y="539.00" width="22.60" height="22.20" fill="#8098ff" stroke="#0030ff" stroke-width="2.7"/>
<text x="583.90" y="555.80" font-size="17.5" font-weight="normal" fill="#141414" text-anchor="middle" textLength="8.60" lengthAdjust="spacingAndGlyphs" stroke="#141414" stroke-width="0.25">1</text>
<text x="622.30" y="555.80" font-size="17.5" font-weight="normal" fill="#141414" text-anchor="middle" textLength="8.60" lengthAdjust="spacingAndGlyphs" stroke="#141414" stroke-width="0.25">1</text>
<text x="603.70" y="555.80" font-size="17.5" font-weight="normal" fill="#141414" text-anchor="middle" stroke="#141414" stroke-width="0.5">:</text>
</svg>
</body></html>
